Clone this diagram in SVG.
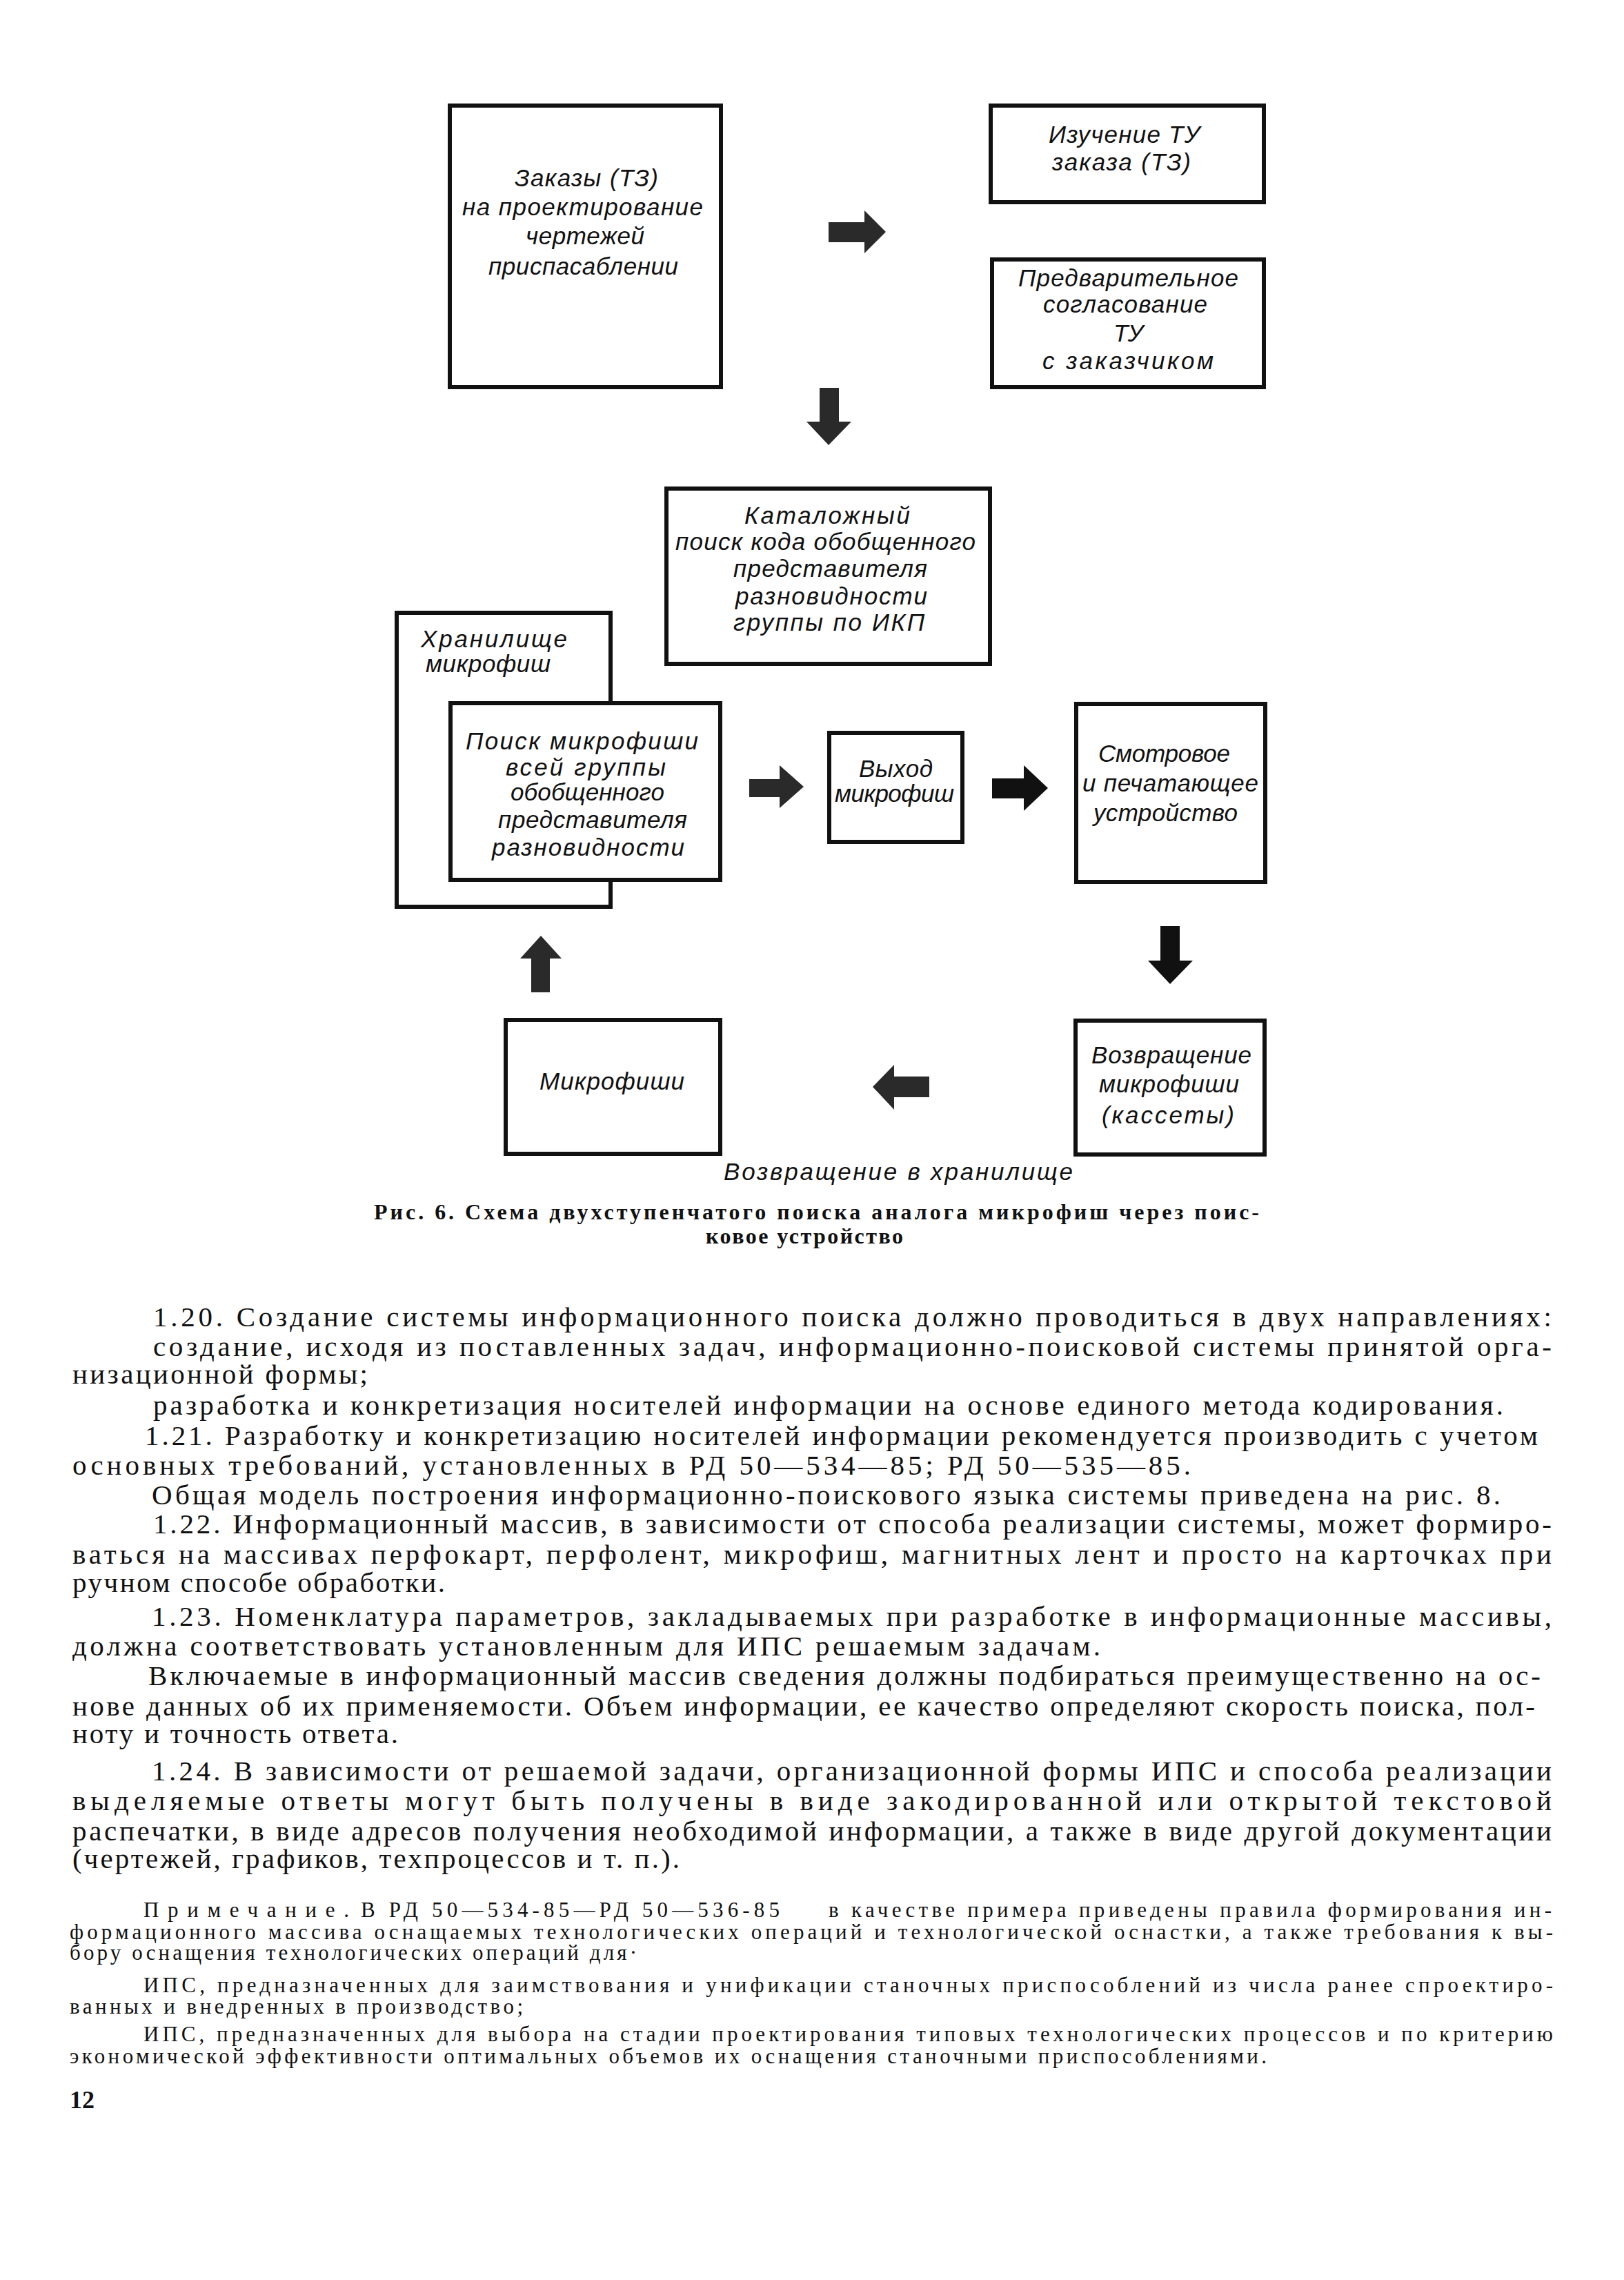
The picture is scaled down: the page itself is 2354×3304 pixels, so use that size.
<svg xmlns="http://www.w3.org/2000/svg" width="2354" height="3304" viewBox="0 0 2354 3304">
<defs>
<style>
.box{fill:#fff;stroke:#111;stroke-width:6}
.dt{font-family:"Liberation Sans",Arial,sans-serif;font-style:italic;font-size:35px;fill:#111}
.arr{fill:#111}
.arr2{fill:#2a2a2a}
.body{font-family:"Liberation Serif","Times New Roman",serif;font-size:41px;fill:#111}
.cap{font-family:"Liberation Serif","Times New Roman",serif;font-size:32px;font-weight:bold;fill:#111}
.note{font-family:"Liberation Serif","Times New Roman",serif;font-size:31px;fill:#111}
.pg{font-family:"Liberation Serif","Times New Roman",serif;font-size:36px;font-weight:bold;fill:#111}
</style>
</defs>
<rect x="0" y="0" width="2354" height="3304" fill="#fff"/>

<g id="connectors">
<polygon class="arr2" points="1201,322 1253,322 1253,305 1284,336 1253,367 1253,351 1201,351"/>
<polygon class="arr2" points="1188,562 1216,562 1216,611 1234,611 1201,645 1169,611 1188,611"/>
<polygon class="arr2" points="1086,1129 1130,1129 1130,1109 1165,1140 1130,1171 1130,1155 1086,1155"/>
<polygon class="arr" points="1438,1128 1484,1128 1484,1109 1519,1142 1484,1175 1484,1157 1438,1157"/>
<polygon class="arr" points="1682,1342 1710,1342 1710,1392 1729,1392 1696,1426 1664,1392 1682,1392"/>
<polygon class="arr2" points="1347,1560 1296,1560 1296,1543 1265,1575 1296,1608 1296,1590 1347,1590"/>
<polygon class="arr2" points="770,1438 770,1389 754,1389 784,1356 814,1389 797,1389 797,1438"/>
</g>

<g id="n-zakazy">
<rect class="box" x="652" y="153" width="393" height="408"/>
<text class="dt" x="746" y="270" textLength="208" lengthAdjust="spacing">Заказы (ТЗ)</text>
<text class="dt" x="670" y="312" textLength="349" lengthAdjust="spacing">на проектирование</text>
<text class="dt" x="762" y="354" textLength="172" lengthAdjust="spacing">чертежей</text>
<text class="dt" x="708" y="398" textLength="275" lengthAdjust="spacing">приспасаблении</text>
</g>

<g id="n-izuchenie">
<rect class="box" x="1436" y="153" width="396" height="140"/>
<text class="dt" x="1520" y="207" textLength="219" lengthAdjust="spacing">Изучение ТУ</text>
<text class="dt" x="1525" y="247" textLength="201" lengthAdjust="spacing">заказа (ТЗ)</text>
</g>

<g id="n-predv">
<rect class="box" x="1438" y="376" width="394" height="185"/>
<text class="dt" x="1476" y="415" textLength="319" lengthAdjust="spacing">Предварительное</text>
<text class="dt" x="1512" y="453" textLength="238" lengthAdjust="spacing">согласование</text>
<text class="dt" x="1614" y="495" textLength="43" lengthAdjust="spacing">ТУ</text>
<text class="dt" x="1511" y="535" textLength="248" lengthAdjust="spacing">с заказчиком</text>
</g>

<g id="n-katalog">
<rect class="box" x="966" y="708" width="469" height="254"/>
<text class="dt" x="1079" y="759" textLength="240" lengthAdjust="spacing">Каталожный</text>
<text class="dt" x="979" y="797" textLength="435" lengthAdjust="spacing">поиск кода обобщенного</text>
<text class="dt" x="1063" y="836" textLength="281" lengthAdjust="spacing">представителя</text>
<text class="dt" x="1066" y="876" textLength="278" lengthAdjust="spacing">разновидности</text>
<text class="dt" x="1063" y="914" textLength="277" lengthAdjust="spacing">группы по ИКП</text>
</g>

<g id="n-hranilishche">
<rect class="box" x="575" y="888" width="310" height="426"/>
<text class="dt" x="610" y="938" textLength="212" lengthAdjust="spacing">Хранилище</text>
<text class="dt" x="617" y="974" textLength="181" lengthAdjust="spacing">микрофиш</text>
</g>

<g id="n-poisk">
<rect class="box" x="653" y="1019" width="391" height="256"/>
<text class="dt" x="675" y="1086" textLength="337" lengthAdjust="spacing">Поиск микрофиши</text>
<text class="dt" x="733" y="1124" textLength="232" lengthAdjust="spacing">всей группы</text>
<text class="dt" x="740" y="1160" textLength="223" lengthAdjust="spacing">обобщенного</text>
<text class="dt" x="722" y="1200" textLength="274" lengthAdjust="spacing">представителя</text>
<text class="dt" x="713" y="1240" textLength="279" lengthAdjust="spacing">разновидности</text>
</g>

<g id="n-vyhod">
<rect class="box" x="1202" y="1062" width="193" height="158"/>
<text class="dt" x="1245" y="1126" textLength="107" lengthAdjust="spacing">Выход</text>
<text class="dt" x="1210" y="1162" textLength="173" lengthAdjust="spacing">микрофиш</text>
</g>

<g id="n-smotrovoe">
<rect class="box" x="1560" y="1020" width="274" height="258"/>
<text class="dt" x="1592" y="1104" textLength="191" lengthAdjust="spacing">Смотровое</text>
<text class="dt" x="1569" y="1147" textLength="255" lengthAdjust="spacing">и печатающее</text>
<text class="dt" x="1585" y="1190" textLength="209" lengthAdjust="spacing">устройство</text>
</g>

<g id="n-mikrofishi">
<rect class="box" x="733" y="1478" width="311" height="194"/>
<text class="dt" x="782" y="1579" textLength="210" lengthAdjust="spacing">Микрофиши</text>
</g>

<g id="n-vozvrashchenie">
<rect class="box" x="1559" y="1479" width="274" height="194"/>
<text class="dt" x="1582" y="1541" textLength="232" lengthAdjust="spacing">Возвращение</text>
<text class="dt" x="1593" y="1583" textLength="203" lengthAdjust="spacing">микрофиши</text>
<text class="dt" x="1597" y="1628" textLength="192" lengthAdjust="spacing">(кассеты)</text>
</g>

<g id="label-return">
<text class="dt" x="1049" y="1710" textLength="506" lengthAdjust="spacing">Возвращение в хранилище</text>
</g>

<g id="caption">
<text class="cap" x="542" y="1767" textLength="1283" lengthAdjust="spacing">Рис. 6. Схема двухступенчатого поиска аналога микрофиш через поис-</text>
<text class="cap" x="1023" y="1802" textLength="286" lengthAdjust="spacing">ковое устройство</text>
</g>

<g id="body">
<text class="body" x="222" y="1922" textLength="2027" lengthAdjust="spacing">1.20. Создание системы информационного поиска должно проводиться в двух направлениях:</text>
<text class="body" x="222" y="1965" textLength="2027" lengthAdjust="spacing">создание, исходя из поставленных задач, информационно-поисковой системы принятой орга-</text>
<text class="body" x="105" y="2005" textLength="428" lengthAdjust="spacing">низационной формы;</text>
<text class="body" x="222" y="2050" textLength="1957" lengthAdjust="spacing">разработка и конкретизация носителей информации на основе единого метода кодирования.</text>
<text class="body" x="210" y="2094" textLength="2019" lengthAdjust="spacing">1.21. Разработку и конкретизацию носителей информации рекомендуется производить с учетом</text>
<text class="body" x="105" y="2137" textLength="1621" lengthAdjust="spacing">основных требований, установленных в РД 50—534—85; РД 50—535—85.</text>
<text class="body" x="220" y="2180" textLength="1955" lengthAdjust="spacing">Общая модель построения информационно-поискового языка системы приведена на рис. 8.</text>
<text class="body" x="222" y="2222" textLength="2027" lengthAdjust="spacing">1.22. Информационный массив, в зависимости от способа реализации системы, может формиро-</text>
<text class="body" x="105" y="2266" textLength="2144" lengthAdjust="spacing">ваться на массивах перфокарт, перфолент, микрофиш, магнитных лент и просто на карточках при</text>
<text class="body" x="105" y="2307" textLength="540" lengthAdjust="spacing">ручном способе обработки.</text>
<text class="body" x="220" y="2356" textLength="2029" lengthAdjust="spacing">1.23. Номенклатура параметров, закладываемых при разработке в информационные массивы,</text>
<text class="body" x="105" y="2399" textLength="1490" lengthAdjust="spacing">должна соответствовать установленным для ИПС решаемым задачам.</text>
<text class="body" x="215" y="2442" textLength="2018" lengthAdjust="spacing">Включаемые в информационный массив сведения должны подбираться преимущественно на ос-</text>
<text class="body" x="105" y="2486" textLength="2120" lengthAdjust="spacing">нове данных об их применяемости. Объем информации, ее качество определяют скорость поиска, пол-</text>
<text class="body" x="105" y="2526" textLength="472" lengthAdjust="spacing">ноту и точность ответа.</text>
<text class="body" x="220" y="2580" textLength="2029" lengthAdjust="spacing">1.24. В зависимости от решаемой задачи, организационной формы ИПС и способа реализации</text>
<text class="body" x="105" y="2623" textLength="2144" lengthAdjust="spacing">выделяемые ответы могут быть получены в виде закодированной или открытой текстовой</text>
<text class="body" x="105" y="2667" textLength="2144" lengthAdjust="spacing">распечатки, в виде адресов получения необходимой информации, а также в виде другой документации</text>
<text class="body" x="105" y="2707" textLength="880" lengthAdjust="spacing">(чертежей, графиков, техпроцессов и т. п.).</text>
</g>

<g id="note">
<text class="note" x="208" y="2778" textLength="298" lengthAdjust="spacing">Примечание.</text>
<text class="note" x="523" y="2778" textLength="607" lengthAdjust="spacing">В РД 50—534-85—РД 50—536-85</text>
<text class="note" x="1201" y="2778" textLength="1048" lengthAdjust="spacing">в качестве примера приведены правила формирования ин-</text>
<text class="note" x="101" y="2810" textLength="2150" lengthAdjust="spacing">формационного массива оснащаемых технологических операций и технологической оснастки, а также требования к вы-</text>
<text class="note" x="101" y="2840" textLength="822" lengthAdjust="spacing">бору оснащения технологических операций для·</text>
<text class="note" x="208" y="2887" textLength="2043" lengthAdjust="spacing">ИПС, предназначенных для заимствования и унификации станочных приспособлений из числа ранее спроектиро-</text>
<text class="note" x="101" y="2918" textLength="657" lengthAdjust="spacing">ванных и внедренных в производство;</text>
<text class="note" x="208" y="2958" textLength="2043" lengthAdjust="spacing">ИПС, предназначенных для выбора на стадии проектирования типовых технологических процессов и по критерию</text>
<text class="note" x="101" y="2990" textLength="1735" lengthAdjust="spacing">экономической эффективности оптимальных объемов их оснащения станочными приспособлениями.</text>
<text class="pg" x="101" y="3055">12</text>
</g>
</svg>
